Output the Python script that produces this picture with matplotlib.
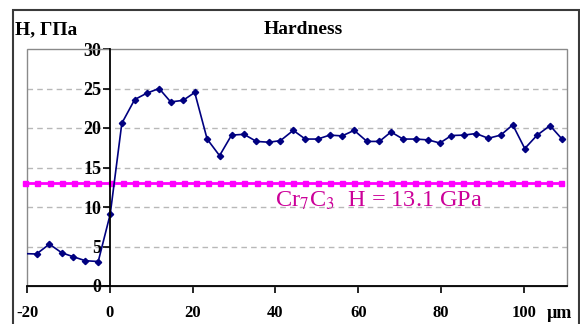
import matplotlib
matplotlib.use("Agg")
import matplotlib.pyplot as plt
from matplotlib.patches import Rectangle

# ---- data ----
hx = [-20.6, -17.7, -14.6, -11.6, -8.8, -5.9, -2.8, 0.1, 2.9, 6.0, 8.9, 11.9, 14.7, 17.7, 20.5,
      23.5, 26.5, 29.4, 32.4, 35.4, 38.4, 41.2, 44.3, 47.2, 50.2, 53.1, 56.1, 59.0, 62.1, 65.1,
      67.9, 70.8, 73.9, 76.8, 79.7, 82.5, 85.5, 88.4, 91.4, 94.4, 97.3, 100.2, 103.2, 106.3, 109.2]
hy = [4.1, 4.05, 5.3, 4.2, 3.7, 3.2, 3.1, 9.1, 20.6, 23.6, 24.4, 25.0, 23.3, 23.5, 24.5,
      18.6, 16.5, 19.1, 19.2, 18.3, 18.2, 18.4, 19.7, 18.6, 18.6, 19.1, 19.0, 19.7, 18.3, 18.3,
      19.5, 18.6, 18.6, 18.5, 18.1, 19.05, 19.1, 19.3, 18.7, 19.1, 20.4, 17.4, 19.1, 20.3, 18.6]

cr_x = [-20.4, -17.5, -14.5, -11.6, -8.6, -5.7, -2.8, 0.2, 3.1, 6.1, 9.0, 11.9, 14.9, 17.8, 20.8,
        23.7, 26.6, 29.6, 32.5, 35.5, 38.4, 41.3, 44.3, 47.2, 50.2, 53.1, 56.0, 59.0, 61.9, 64.9,
        67.8, 70.7, 73.7, 76.6, 79.6, 82.5, 85.4, 88.4, 91.3, 94.3, 97.2, 100.1, 103.1, 106.0, 109.0]
cr_h = 13.1
cr_y = [cr_h] * len(cr_x)

xticks = [-20, 0, 20, 40, 60, 80, 100]
yticks = [0, 5, 10, 15, 20, 25, 30]
grid_y = [5, 10, 15, 20, 25]

plt.rcParams['font.family'] = ['Liberation Serif', 'DejaVu Serif']
plt.rcParams['mathtext.fontset'] = 'stix'

W, H = 580, 324
fig = plt.figure(figsize=(W / 100, H / 100), dpi=100)
fig.patch.set_facecolor('white')

# outer border
fig.patches.append(Rectangle((13 / W, -0.1), (579 - 13) / W, (H - 10) / H + 0.1,
                             transform=fig.transFigure, fill=False,
                             edgecolor='#3a3a3a', linewidth=1.5))

L, R, T, B = 27, 567, 49, 286
ax = fig.add_axes([L / W, (H - B) / H, (R - L) / W, (B - T) / H])
ax.set_xlim(-20, 110.4)
ax.set_ylim(0, 30)

for y in grid_y:
    ax.axhline(y, color='#b8b8b8', linewidth=1.0, linestyle=(0, (4, 3)), zorder=1)

# gray frame
ax.add_patch(Rectangle((0, 0), 1, 1, transform=ax.transAxes, fill=False,
                       edgecolor='#8a8a8a', linewidth=1.0, zorder=2, clip_on=False))

ax.plot(cr_x, cr_y, color='#ff00ff', linewidth=2.0, marker='s', markersize=3.6,
        zorder=3, clip_on=False)
ax.plot(hx, hy, color='#000080', linewidth=1.2, marker='D', markersize=3.2,
        markevery=slice(1, None), zorder=4)

ax.text(40.0, 10.0, 'Cr$_7$C$_3$  H = 13.1 GPa', color='#cc0099', fontsize=17.5,
        ha='left', va='baseline', zorder=5)

for s in ['top', 'right']:
    ax.spines[s].set_visible(False)
ax.spines['left'].set_position(('data', 0))
ax.spines['left'].set_color('black')
ax.spines['left'].set_linewidth(1.3)
ax.spines['bottom'].set_color('black')
ax.spines['bottom'].set_linewidth(1.3)
ax.spines['left'].set_zorder(6)
ax.spines['bottom'].set_zorder(6)

ax.set_xticks(xticks)
ax.set_yticks(yticks)
ax.set_xticklabels([str(v) for v in xticks], fontsize=12, fontweight='bold')
ax.set_yticklabels([str(v) for v in yticks], fontsize=13, fontweight='bold')
ax.tick_params(axis='y', direction='out', length=5, width=1.2, pad=1)
ax.tick_params(axis='x', direction='out', length=5, width=1.2, pad=9)

fig.text(559 / W, 1 - 313 / H, 'µm', fontsize=13, fontweight='bold',
         ha='center', va='center')
fig.text(15 / W, 1 - 30 / H, 'H, ГПа', fontsize=14, fontweight='bold',
         ha='left', va='center')
fig.text(303 / W, 1 - 30 / H, 'Hardness', fontsize=14, fontweight='bold',
         ha='center', va='center')

fig.savefig('out.png', dpi=100)
